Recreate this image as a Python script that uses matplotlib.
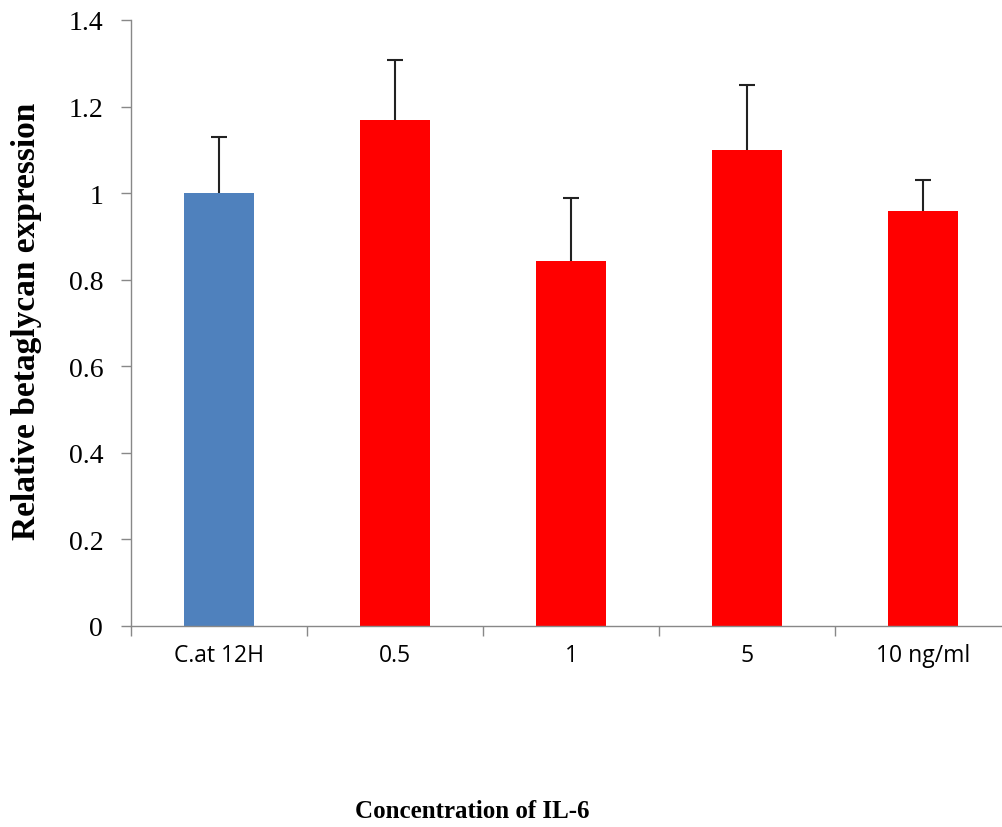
import matplotlib.pyplot as plt

# valeurs
labels = ['C.at 12H', '0.5', '1', '5', '10 ng/ml']
values = [1.0, 1.17, 0.843, 1.10, 0.958]
errors = [0.13, 0.137, 0.145, 0.15, 0.072]
colors = ['#4F81BD', '#FF0000', '#FF0000', '#FF0000', '#FF0000']

fig = plt.figure(figsize=(10.03, 8.28), dpi=100)
ax = fig.add_axes([131 / 1003, 201 / 828, 872 / 1003, 606 / 828])

x = range(len(labels))
# barres d'erreur derrière les barres : seule la partie haute reste visible
ax.errorbar(x, values, yerr=errors, fmt='none',
            ecolor='#222222', elinewidth=1.5, capsize=5.5, capthick=1.5, zorder=1)
ax.bar(x, values, width=0.4, color=colors, zorder=2)

ax.set_ylim(0, 1.4)
ax.set_xlim(-0.5, 4.5 - 8 / 176)
ax.set_yticks([0, 0.2, 0.4, 0.6, 0.8, 1.0, 1.2, 1.4])
ax.set_yticklabels(['0', '0.2', '0.4', '0.6', '0.8', '1', '1.2', '1.4'],
                   family='Liberation Serif', fontsize=20)
ax.set_xticks([i + 0.5 for i in range(-1, 4)], minor=False)
ax.set_xticklabels([])
ax.set_xticks(list(x), minor=True)
ax.set_xticklabels(labels, minor=True, family='Open Sans', fontsize=16.5)
ax.tick_params(axis='x', which='minor', length=0, pad=12)
ax.tick_params(axis='both', which='major', direction='out', length=7,
               color='#888888', width=1)
ax.tick_params(axis='y', pad=13)

for side in ['top', 'right']:
    ax.spines[side].set_visible(False)
for side in ['left', 'bottom']:
    ax.spines[side].set_color('#888888')
    ax.spines[side].set_linewidth(1)

fig.text(27 / 1003, 1 - 321 / 828, 'Relative betaglycan expression', family='Liberation Serif',
         fontweight='bold', fontsize=24, rotation=90, ha='center', va='center')
fig.text(472 / 1003, 1 - 812 / 828, 'Concentration of IL-6', family='Liberation Serif',
         fontweight='bold', fontsize=18, ha='center', va='center')

plt.savefig('out.png', dpi=100)
